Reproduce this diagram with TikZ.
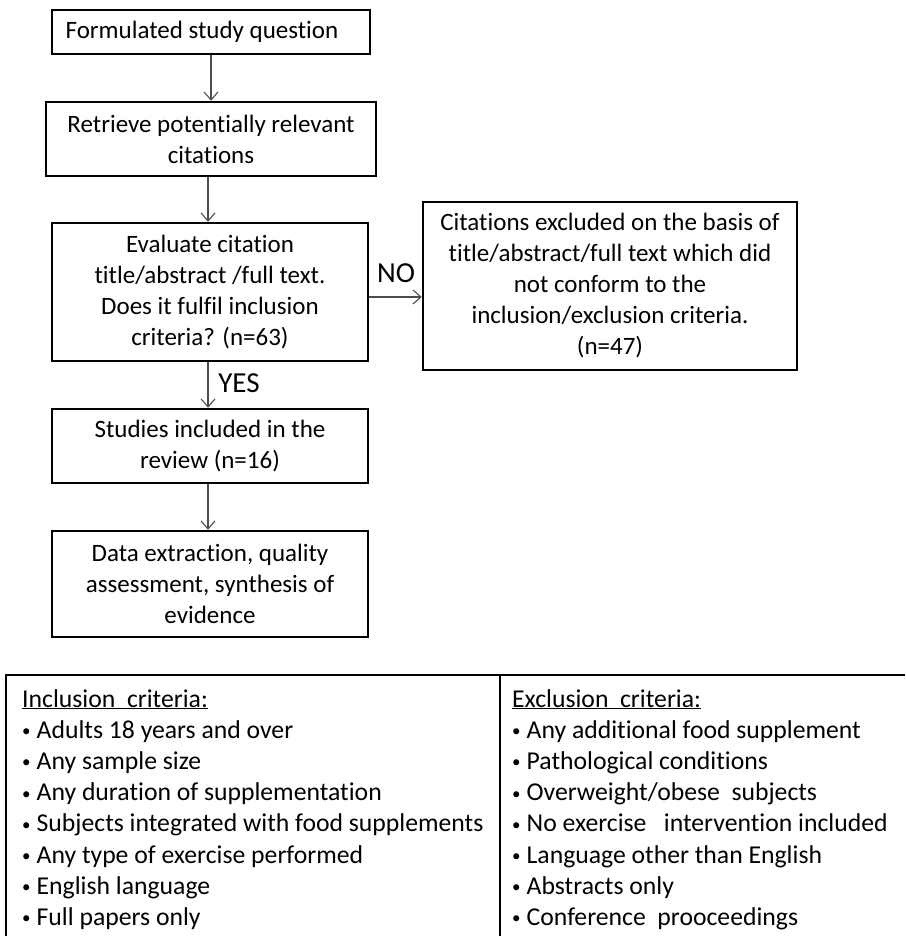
\documentclass[tikz,border=0pt]{standalone}
\usepackage{fontspec}
\setmainfont{Carlito}[Ligatures=NoCommon]
\usetikzlibrary{arrows.meta}
\newcommand{\critbullet}{\raisebox{1.5pt}{\fontsize{17}{17}\selectfont\textbullet}\hspace{6pt}}
\begin{document}
\begin{tikzpicture}[x=1pt, y=-1pt, every node/.style={font=\fontsize{25}{31}\selectfont},
    flowbox/.style={draw, line width=2.5pt, align=center, inner sep=0pt},
    flowarrow/.style={-{Straight Barb[length=8pt,width=14pt]}, line width=1.1pt, black!70},
    decision/.style={font=\fontsize{29}{31}\selectfont},
    critlist/.style={anchor=north west, align=left, inner sep=0pt, font=\fontsize{25.7}{31.2}\selectfont}]
    \useasboundingbox (0,0) rectangle (905,936);

    % Study question
    \node[flowbox, minimum width=318, minimum height=44]
        (question) at (211,32) {Formulated study question\hspace{18pt}};

    % Retrieval
    \node[flowbox, minimum width=330, minimum height=74]
        (retrieve) at (211,139) {Retrieve potentially relevant\\citations};

    % Evaluation
    \node[flowbox, minimum width=316, minimum height=138]
        (evaluate) at (210,292) {Evaluate citation\\title/abstract /full text.\\Does it fulfil inclusion\\criteria? (n=63)};

    % Excluded citations
    \node[flowbox, minimum width=374, minimum height=168]
        (excluded) at (610,286) {Citations excluded on the basis of\\title/abstract/full text which did\\not conform to the\\inclusion/exclusion criteria.\\(n=47)};

    % Included studies
    \node[flowbox, minimum width=316, minimum height=74]
        (included) at (210,446) {Studies included in the\\review (n=16)};

    % Data extraction
    \node[flowbox, minimum width=316, minimum height=106]
        (extract) at (210,584) {Data extraction, quality\\assessment, synthesis of\\evidence};

    % Arrows
    \draw[flowarrow] (question) -- (retrieve);
    \draw[flowarrow] (retrieve.south -| 208,0) -- (evaluate.north -| 208,0);
    \draw[flowarrow] (evaluate.south -| 208,0) -- (included.north -| 208,0);
    \draw[flowarrow] (included.south -| 208,0) -- (extract.north -| 208,0);
    \draw[flowarrow] ([yshift=-5pt]evaluate.east) -- ([yshift=-5pt]evaluate.east -| excluded.west);

    % Decision labels
    \node[decision] (no) at (396,273) {NO};
    \node[decision] (yes) at (239,383) {YES};

    % Criteria table
    \draw[line width=2.5pt] (5,675) -- (905,675);
    \draw[line width=2.5pt] (6,675) -- (6,936);
    \draw[line width=2.5pt] (500,675) -- (500,936);

    \node[critlist] (inclusion) at (22,689) {\underline{Inclusion\ \ criteria:}\\
        \critbullet Adults 18 years and over\\
        \critbullet Any sample size\\
        \critbullet Any duration of supplementation\\
        \critbullet Subjects integrated with food supplements\\
        \critbullet Any type of exercise performed\\
        \critbullet English language\\
        \critbullet Full papers only};
    \node[critlist] (exclusion) at (512,689) {\underline{Exclusion\ \ criteria:}\\
        \critbullet Any additional food supplement\\
        \critbullet Pathological conditions\\
        \critbullet Overweight/obese\ \ subjects\\
        \critbullet No exercise\ \ \ intervention included\\
        \critbullet Language other than English\\
        \critbullet Abstracts only\\
        \critbullet Conference\ \ prooceedings};
\end{tikzpicture}
\end{document}
